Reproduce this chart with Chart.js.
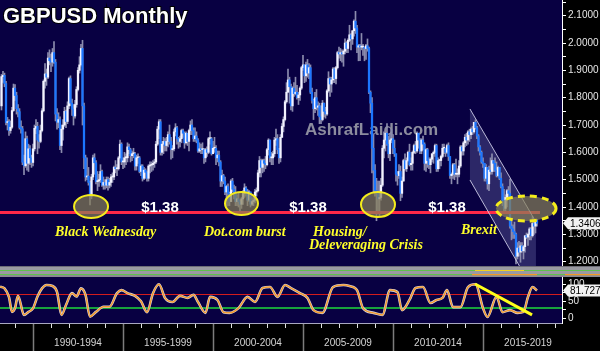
<!DOCTYPE html>
<html>
<head>
<meta charset="utf-8">
<script src="https://cdn.jsdelivr.net/npm/chart.js@4.4.1/dist/chart.umd.min.js"></script>
<style>
  html, body { margin: 0; padding: 0; background: #000; }
  canvas { display: block; }
</style>
</head>
<body>
<canvas id="chart" width="600" height="351"></canvas>
<script>
// months are counted from Jan 1990 (= 0); first candle is Mar 1988
const firstMonth = -22;
const firstOpen = 1.770;

const closes = [
  1.877,1.882,1.852,1.709,1.712,1.680,1.692,1.753,1.835,1.808,               // 1988 Mar-Dec
  1.760,1.749,1.691,1.686,1.564,1.551,1.650,1.560,1.613,1.580,1.563,1.613,   // 1989
  1.688,1.695,1.645,1.640,1.680,1.752,1.860,1.887,1.875,1.945,1.935,1.930,   // 1990
  1.965,1.930,1.740,1.710,1.720,1.625,1.685,1.700,1.750,1.713,1.770,1.870,   // 1991
  1.780,1.758,1.733,1.775,1.830,1.900,1.920,1.980,1.770,1.580,1.510,1.513,   // 1992
  1.490,1.440,1.510,1.580,1.562,1.493,1.495,1.500,1.530,1.480,1.490,1.480,   // 1993
  1.500,1.480,1.490,1.510,1.510,1.545,1.540,1.540,1.580,1.630,1.565,1.565,   // 1994
  1.580,1.580,1.620,1.610,1.588,1.595,1.595,1.550,1.580,1.580,1.530,1.550,   // 1995
  1.505,1.535,1.527,1.505,1.550,1.553,1.555,1.560,1.565,1.630,1.685,1.712,   // 1996
  1.600,1.630,1.640,1.625,1.640,1.665,1.640,1.610,1.613,1.675,1.690,1.650,   // 1997
  1.640,1.650,1.680,1.670,1.635,1.670,1.640,1.680,1.700,1.680,1.650,1.660,   // 1998
  1.645,1.605,1.613,1.610,1.610,1.580,1.610,1.600,1.650,1.650,1.595,1.615,   // 1999
  1.615,1.580,1.590,1.565,1.495,1.515,1.495,1.455,1.475,1.450,1.420,1.495,   // 2000
  1.465,1.450,1.420,1.430,1.420,1.410,1.430,1.450,1.470,1.455,1.425,1.455,   // 2001
  1.410,1.420,1.425,1.455,1.460,1.525,1.570,1.545,1.570,1.560,1.555,1.610,   // 2002
  1.645,1.580,1.580,1.595,1.645,1.650,1.610,1.580,1.655,1.695,1.720,1.785,   // 2003
  1.820,1.865,1.840,1.770,1.835,1.815,1.820,1.800,1.810,1.835,1.910,1.920,   // 2004
  1.880,1.920,1.890,1.910,1.820,1.790,1.760,1.800,1.765,1.770,1.730,1.720,   // 2005
  1.780,1.750,1.740,1.825,1.870,1.850,1.865,1.905,1.870,1.910,1.965,1.960,   // 2006
  1.965,1.960,1.970,2.000,1.980,2.010,2.030,2.015,2.045,2.080,2.055,1.985,   // 2007
  1.990,1.985,1.985,1.985,1.980,1.990,1.980,1.820,1.780,1.615,1.535,1.460,   // 2008
  1.450,1.430,1.435,1.480,1.615,1.645,1.670,1.630,1.595,1.645,1.650,1.615,   // 2009
  1.595,1.520,1.515,1.530,1.450,1.495,1.570,1.540,1.570,1.600,1.555,1.560,   // 2010
  1.600,1.625,1.605,1.670,1.645,1.605,1.645,1.630,1.560,1.610,1.570,1.555,   // 2011
  1.575,1.595,1.600,1.625,1.540,1.570,1.570,1.585,1.615,1.615,1.600,1.625,   // 2012
  1.585,1.515,1.520,1.555,1.520,1.520,1.520,1.550,1.620,1.605,1.635,1.655,   // 2013
  1.645,1.675,1.665,1.685,1.675,1.710,1.690,1.660,1.620,1.600,1.565,1.560,   // 2014
  1.505,1.545,1.485,1.535,1.530,1.570,1.560,1.535,1.515,1.545,1.505,1.475,   // 2015
  1.425,1.395,1.435,1.460,1.450,1.330,1.320,1.310,1.300,1.220,1.250,1.235,   // 2016
  1.258,1.240,1.255,1.295,1.290,1.300,1.320,1.295,1.340,1.330,1.350,1.3406   // 2017
];

const highs = [
  1.885,1.896,1.890,1.860,1.728,1.720,1.715,1.765,1.850,1.848,
  1.820,1.775,1.760,1.715,1.695,1.590,1.675,1.660,1.630,1.625,1.590,1.630,
  1.700,1.720,1.710,1.665,1.700,1.760,1.865,1.925,1.905,1.965,1.975,1.960,
  1.980,2.005,1.940,1.760,1.745,1.730,1.700,1.720,1.765,1.755,1.785,1.875,
  1.880,1.795,1.775,1.790,1.840,1.910,1.950,1.995,2.010,1.780,1.590,1.580,
  1.545,1.495,1.520,1.590,1.595,1.570,1.530,1.520,1.555,1.535,1.510,1.500,
  1.510,1.510,1.505,1.520,1.525,1.550,1.570,1.555,1.585,1.645,1.635,1.580,
  1.600,1.595,1.635,1.630,1.615,1.605,1.615,1.600,1.590,1.595,1.585,1.555,
  1.555,1.545,1.540,1.530,1.555,1.565,1.565,1.570,1.575,1.640,1.695,1.720,
  1.720,1.640,1.655,1.650,1.655,1.675,1.700,1.655,1.625,1.685,1.705,1.695,
  1.655,1.660,1.685,1.685,1.675,1.675,1.670,1.685,1.715,1.720,1.690,1.690,
  1.675,1.650,1.635,1.630,1.635,1.615,1.615,1.620,1.655,1.675,1.655,1.640,
  1.655,1.625,1.605,1.605,1.570,1.535,1.520,1.510,1.480,1.485,1.455,1.500,
  1.505,1.480,1.475,1.445,1.450,1.425,1.435,1.460,1.485,1.475,1.465,1.460,
  1.455,1.435,1.440,1.465,1.470,1.535,1.585,1.575,1.575,1.575,1.585,1.615,
  1.650,1.645,1.600,1.605,1.655,1.685,1.665,1.615,1.665,1.705,1.730,1.790,
  1.855,1.905,1.875,1.850,1.840,1.855,1.875,1.845,1.820,1.840,1.915,1.955,
  1.920,1.930,1.940,1.925,1.920,1.835,1.795,1.820,1.830,1.785,1.780,1.770,
  1.790,1.780,1.765,1.830,1.895,1.875,1.875,1.910,1.910,1.915,1.970,1.985,
  1.980,1.975,1.975,2.015,2.005,2.015,2.065,2.035,2.045,2.085,2.116,2.065,
  1.995,1.995,2.035,1.995,1.985,1.995,2.015,1.985,1.825,1.800,1.665,1.555,
  1.505,1.495,1.495,1.505,1.625,1.675,1.675,1.705,1.660,1.670,1.685,1.665,
  1.645,1.595,1.530,1.555,1.550,1.510,1.575,1.595,1.580,1.605,1.630,1.580,
  1.605,1.630,1.640,1.675,1.670,1.650,1.650,1.660,1.635,1.615,1.615,1.580,
  1.580,1.595,1.605,1.630,1.630,1.580,1.575,1.590,1.630,1.630,1.615,1.630,
  1.635,1.585,1.525,1.560,1.560,1.575,1.540,1.570,1.625,1.625,1.640,1.665,
  1.670,1.680,1.685,1.690,1.695,1.710,1.719,1.695,1.665,1.625,1.605,1.580,
  1.560,1.555,1.545,1.550,1.580,1.595,1.570,1.580,1.565,1.550,1.545,1.525,
  1.485,1.465,1.445,1.465,1.475,1.502,1.350,1.335,1.345,1.305,1.270,1.275,
  1.270,1.270,1.260,1.296,1.305,1.305,1.325,1.325,1.365,1.345,1.355,1.355
];

const lows = [
  1.755,1.856,1.840,1.700,1.682,1.662,1.670,1.688,1.750,1.790,
  1.740,1.730,1.685,1.670,1.555,1.518,1.545,1.535,1.530,1.555,1.545,1.550,
  1.605,1.668,1.595,1.615,1.635,1.675,1.748,1.835,1.845,1.870,1.920,1.895,
  1.915,1.925,1.715,1.685,1.690,1.610,1.599,1.645,1.695,1.690,1.705,1.760,
  1.770,1.735,1.700,1.725,1.765,1.825,1.890,1.915,1.700,1.540,1.495,1.500,
  1.480,1.408,1.430,1.500,1.520,1.485,1.460,1.475,1.490,1.475,1.465,1.465,
  1.470,1.462,1.470,1.475,1.490,1.500,1.525,1.515,1.535,1.575,1.555,1.540,
  1.545,1.555,1.565,1.595,1.565,1.570,1.580,1.535,1.535,1.560,1.525,1.515,
  1.495,1.500,1.505,1.495,1.495,1.525,1.530,1.535,1.545,1.560,1.625,1.650,
  1.590,1.590,1.595,1.605,1.605,1.620,1.630,1.575,1.580,1.605,1.660,1.630,
  1.615,1.620,1.635,1.655,1.615,1.630,1.625,1.605,1.665,1.665,1.640,1.640,
  1.635,1.600,1.600,1.595,1.595,1.560,1.565,1.585,1.595,1.630,1.590,1.595,
  1.600,1.555,1.565,1.550,1.475,1.475,1.485,1.445,1.400,1.405,1.405,1.420,
  1.455,1.430,1.405,1.405,1.400,1.370,1.395,1.410,1.435,1.440,1.405,1.420,
  1.400,1.405,1.405,1.415,1.440,1.455,1.510,1.510,1.525,1.530,1.540,1.550,
  1.590,1.565,1.555,1.555,1.585,1.625,1.595,1.560,1.565,1.655,1.675,1.715,
  1.780,1.820,1.780,1.755,1.750,1.805,1.810,1.795,1.775,1.790,1.830,1.900,
  1.855,1.860,1.875,1.870,1.815,1.780,1.720,1.745,1.755,1.735,1.705,1.705,
  1.715,1.730,1.725,1.735,1.820,1.805,1.820,1.855,1.855,1.850,1.905,1.945,
  1.935,1.930,1.915,1.960,1.965,1.965,2.005,1.975,1.995,2.025,2.035,1.965,
  1.935,1.935,1.975,1.955,1.935,1.940,1.970,1.815,1.745,1.525,1.455,1.440,
  1.350,1.385,1.365,1.425,1.475,1.580,1.605,1.625,1.580,1.570,1.635,1.595,
  1.585,1.495,1.480,1.505,1.423,1.435,1.495,1.535,1.530,1.565,1.550,1.535,
  1.535,1.595,1.595,1.600,1.615,1.595,1.595,1.610,1.535,1.530,1.545,1.540,
  1.525,1.565,1.560,1.585,1.530,1.530,1.540,1.550,1.580,1.595,1.585,1.595,
  1.570,1.505,1.485,1.505,1.500,1.510,1.485,1.510,1.545,1.590,1.590,1.620,
  1.625,1.630,1.640,1.650,1.665,1.670,1.685,1.650,1.605,1.590,1.560,1.545,
  1.495,1.495,1.465,1.460,1.520,1.520,1.530,1.530,1.510,1.510,1.500,1.470,
  1.405,1.385,1.385,1.400,1.430,1.323,1.280,1.285,1.285,1.192,1.210,1.220,
  1.198,1.235,1.210,1.235,1.285,1.260,1.280,1.280,1.290,1.300,1.305,1.330
];

// slow oscillator
const oscMonths = [
  -23,-20,-17,-15,-13,-11,-7,-4,-1,2,
  5,8,12,15,18,21,25,28,31,34,
  37,41,46,50,55,58,62,67,71,75,
  79,83,87,92,97,102,106,109,114,117,
  122,126,130,136,142,147,152,157,162,167,
  171,177,182,186,192,199,206,210,215,219,
  226,232,237,242,245,250,254,259,264,268,
  272,275,279,284,289,294,299,302,308,312,
  317,322,326,329,332,335
];
const oscValues = [
  93,88,62,19,30,66,10,19,29,64,
  88,98,95,78,10,39,74,64,88,69,
  5,19,34,34,74,83,74,66,50,18,
  74,100,60,48,66,60,69,48,16,63,
  54,18,16,30,63,48,89,92,63,98,
  89,74,60,24,16,92,98,95,83,30,
  16,10,83,77,24,54,89,92,45,54,
  60,83,33,33,92,100,30,4,63,18,
  24,16,19,63,92,82
];

const lastPrice = 1.3406;
const lastOsc = 81.7278;
const supportLevel = 1.38;
const oscUpper = 70;
const oscLower = 30;
const periodLabels = ['1990-1994', '1995-1999', '2000-2004', '2005-2009', '2010-2014', '2015-2019'];

const X_MIN = -23, X_MAX = 351.67;
const NAVY = '#080042';
const FONT = '"Liberation Sans", Arial, sans-serif';

const months = closes.map((_, i) => firstMonth + i);
const opens = closes.map((c, i) => i === 0 ? firstOpen : closes[i - 1]);

function fixAxis(width) {
  return s => {
    s.width = width;
    s.paddingTop = 0;
    s.paddingBottom = 0;
  };
}

function ellipse(ctx, cx, cy, rx, ry, dashed) {
  ctx.save();
  ctx.beginPath();
  ctx.ellipse(cx, cy, rx, ry, 0, 0, Math.PI * 2);
  ctx.fillStyle = 'rgba(135,128,88,0.7)';
  ctx.fill();
  ctx.strokeStyle = '#f4ec1c';
  ctx.lineWidth = dashed ? 3 : 2;
  if (dashed) ctx.setLineDash([7, 5]);
  ctx.stroke();
  ctx.restore();
}

function tag(ctx, yc, text) {
  ctx.save();
  ctx.beginPath();
  ctx.moveTo(563, yc);
  ctx.lineTo(568, yc - 6);
  ctx.lineTo(600, yc - 6);
  ctx.lineTo(600, yc + 6);
  ctx.lineTo(568, yc + 6);
  ctx.closePath();
  ctx.fillStyle = '#f2f2f2';
  ctx.fill();
  ctx.fillStyle = '#000';
  ctx.font = '10px ' + FONT;
  ctx.textBaseline = 'middle';
  ctx.fillText(text, 570, yc + 0.5);
  ctx.restore();
}

const decor = {
  id: 'decor',
  beforeDraw(chart) {
    const { ctx, chartArea: a } = chart;
    ctx.save();
    ctx.fillStyle = '#000';
    ctx.fillRect(0, 0, chart.width, chart.height);
    ctx.fillStyle = NAVY;
    ctx.fillRect(a.left, a.top, a.right - a.left, a.bottom - a.top);
    ctx.restore();
  },
  beforeDatasetsDraw(chart) {
    const { ctx, scales: { x, y } } = chart;
    ctx.save();
    // shaded down channel
    const poly = [[290.3, 1.7588], [334.3, 1.3453], [334.3, y.min], [323.6, y.min], [290.3, 1.4990]];
    ctx.beginPath();
    poly.forEach(([m, p], i) => {
      const px = x.getPixelForValue(m), py = y.getPixelForValue(p);
      if (i) ctx.lineTo(px, py); else ctx.moveTo(px, py);
    });
    ctx.closePath();
    ctx.fillStyle = 'rgba(120,120,185,0.32)';
    ctx.fill();
    // watermark
    ctx.font = 'bold 17px ' + FONT;
    ctx.fillStyle = '#8c8c9e';
    ctx.fillText('AshrafLaidi.com', 305, 135);
    ctx.restore();
  },
  afterDatasetsDraw(chart) {
    const { ctx, scales: { x, y, yS } } = chart;
    ctx.save();

    // thin strip pane between price and oscillator
    const top = yS.top;
    const rows = [[0, 1, '#6c6c76'], [1, 4, '#9a9aa2'], [4, 5, '#5ec24c'], [5, 8, '#9a9aa2'], [8, 9, '#5ec24c'], [9, 11, '#8a8a92']];
    rows.forEach(([a, b, c]) => {
      ctx.fillStyle = c;
      ctx.fillRect(0, top + a, 600, b - a);
    });
    ctx.fillStyle = '#f2d21e';
    ctx.fillRect(475, top + 4, 49, 1);
    ctx.fillStyle = '#f29a22';
    ctx.fillRect(472, top + 8, 65, 1.2);
    ctx.fillRect(565, top + 8, 35, 1.2);

    // ellipses around the 1.38 lows
    ellipse(ctx, x.getPixelForValue(37.7), y.getPixelForValue(1.4020), 17, 11.5, false);
    ellipse(ctx, x.getPixelForValue(138), y.getPixelForValue(1.4130), 16.5, 11.5, false);
    ellipse(ctx, x.getPixelForValue(229), y.getPixelForValue(1.4093), 17, 12.5, false);
    ellipse(ctx, x.getPixelForValue(327.7), y.getPixelForValue(1.3947), 30, 12.5, true);

    // level labels
    ctx.fillStyle = '#ffffff';
    ctx.font = 'bold 15px ' + FONT;
    ctx.textAlign = 'center';
    [160, 308, 447].forEach(cx => ctx.fillText('$' + supportLevel.toFixed(2), cx, 212));

    // event labels
    ctx.textAlign = 'left';
    ctx.font = 'italic bold 14px "Liberation Serif", "Times New Roman", serif';
    ctx.fillStyle = '#ffff2a';
    ctx.fillText('Black Wednesday', 55, 236);
    ctx.fillText('Dot.com burst', 204, 236);
    ctx.fillText('Housing/', 313, 236);
    ctx.fillText('Deleveraging Crisis', 309, 249);
    ctx.fillText('Brexit', 461, 234);

    // title
    ctx.font = 'bold 22px ' + FONT;
    ctx.lineWidth = 2;
    ctx.strokeStyle = '#000';
    ctx.strokeText('GBPUSD Monthly', 3, 23);
    ctx.fillStyle = '#ffffff';
    ctx.fillText('GBPUSD Monthly', 3, 23);
    ctx.restore();
  },
  afterDraw(chart) {
    const { ctx, chartArea: a, scales: { x, y, yO } } = chart;
    ctx.save();
    // bottom border of the panes
    ctx.strokeStyle = '#a8a8c0';
    ctx.lineWidth = 1;
    ctx.beginPath();
    ctx.moveTo(0, a.bottom + 0.5);
    ctx.lineTo(a.right, a.bottom + 0.5);
    ctx.stroke();
    // year ticks and five-year dividers
    for (let m = -13; m <= X_MAX; m += 12) {
      const px = Math.round(x.getPixelForValue(m)) + 0.5;
      const divider = (m + 1) % 60 === 0;
      ctx.beginPath();
      ctx.strokeStyle = divider ? '#7c7c7c' : '#e0e0e0';
      ctx.lineWidth = divider ? 1.5 : 1;
      ctx.moveTo(px, a.bottom + 1);
      ctx.lineTo(px, divider ? chart.height : a.bottom + 5);
      ctx.stroke();
    }
    tag(ctx, y.getPixelForValue(lastPrice), lastPrice.toFixed(4));
    tag(ctx, yO.getPixelForValue(lastOsc), lastOsc.toFixed(4));
    ctx.restore();
  }
};

const line = (data, color, width, axis, order) => ({
  type: 'line', data, yAxisID: axis, order,
  borderColor: color, borderWidth: width, pointRadius: 0, fill: false
});

new Chart(document.getElementById('chart'), {
  type: 'bar',
  data: {
    datasets: [
      {
        label: 'wick', order: 8, grouped: false, barThickness: 1, yAxisID: 'y',
        backgroundColor: '#8c8cae',
        data: months.map((m, i) => ({ x: m, y: [lows[i], highs[i]] }))
      },
      {
        label: 'body', order: 7, grouped: false, barThickness: 1.6, minBarLength: 1, yAxisID: 'y',
        backgroundColor: closes.map((c, i) => c >= opens[i] ? '#f2f2ff' : '#1c76ff'),
        data: months.map((m, i) => ({ x: m, y: [opens[i], closes[i]] }))
      },
      line([{ x: X_MIN, y: supportLevel }, { x: 337, y: supportLevel }], '#ff2848', 3, 'y', 6),
      line([{ x: 290.3, y: 1.7588 }, { x: 334.3, y: 1.3453 }], 'rgba(215,215,240,0.85)', 1, 'y', 1),
      line([{ x: 290.3, y: 1.4990 }, { x: 323.7, y: 1.1806 }], 'rgba(215,215,240,0.85)', 1, 'y', 1),
      line([{ x: X_MIN, y: oscUpper }, { x: X_MAX, y: oscUpper }], '#d41c1c', 1, 'yO', 5),
      line([{ x: X_MIN, y: oscLower }, { x: X_MAX, y: oscLower }], '#18a23c', 2, 'yO', 5),
      Object.assign(line(oscMonths.map((m, i) => ({ x: m, y: oscValues[i] })), '#d6d6e6', 2.6, 'yO', 4),
        { cubicInterpolationMode: 'monotone' }),
      Object.assign(line(oscMonths.map((m, i) => ({ x: m, y: oscValues[i] })), '#f29a2e', 1.5, 'yO', 3),
        { cubicInterpolationMode: 'monotone' }),
      line([{ x: 293.7, y: 101 }, { x: 331.7, y: 10 }], '#ffff1a', 3, 'yO', 2)
    ]
  },
  options: {
    responsive: false,
    animation: false,
    events: [],
    layout: { padding: 0 },
    plugins: { legend: { display: false }, tooltip: { enabled: false } },
    scales: {
      x: {
        type: 'linear', min: X_MIN, max: X_MAX, offset: false, position: 'bottom',
        grid: { display: false, drawTicks: false, offset: false },
        border: { display: false },
        ticks: {
          color: '#d4d4d4', font: { family: FONT, size: 10 }, padding: 14,
          maxRotation: 0, autoSkip: false,
          callback: (v, i) => periodLabels[i]
        },
        afterBuildTicks: s => { s.ticks = periodLabels.map((_, k) => ({ value: 29 + 60 * k })); },
        afterFit: s => { s.height = 28; s.paddingLeft = 0; s.paddingRight = 0; }
      },
      y: {
        position: 'right', stack: 'panes', stackWeight: 266,
        min: 1.1843, max: 2.1574,
        ticks: {
          stepSize: 0.05, includeBounds: false, autoSkip: false, color: '#e6e6e6', padding: 2,
          font: { family: FONT, size: 10 },
          callback: v => Math.round(v * 100) % 10 === 0 ? v.toFixed(4) : ''
        },
        grid: { drawOnChartArea: false, color: '#ffffff', tickLength: 4 },
        border: { color: '#ffffff' },
        afterFit: fixAxis(38)
      },
      yS: {
        position: 'right', stack: 'panes', stackWeight: 11, min: 0, max: 1,
        ticks: { display: false }, grid: { display: false }, border: { display: false },
        afterFit: fixAxis(38)
      },
      yO: {
        position: 'right', stack: 'panes', stackWeight: 46,
        min: -13.8, max: 121.5,
        ticks: {
          stepSize: 25, includeBounds: false, autoSkip: false, color: '#e6e6e6', padding: 2,
          font: { family: FONT, size: 10 },
          callback: v => v % 50 === 0 ? String(v) : ''
        },
        grid: { drawOnChartArea: false, color: '#ffffff', tickLength: 4 },
        border: { color: '#ffffff' },
        afterFit: fixAxis(38)
      }
    }
  },
  plugins: [decor]
});
</script>
</body>
</html>
